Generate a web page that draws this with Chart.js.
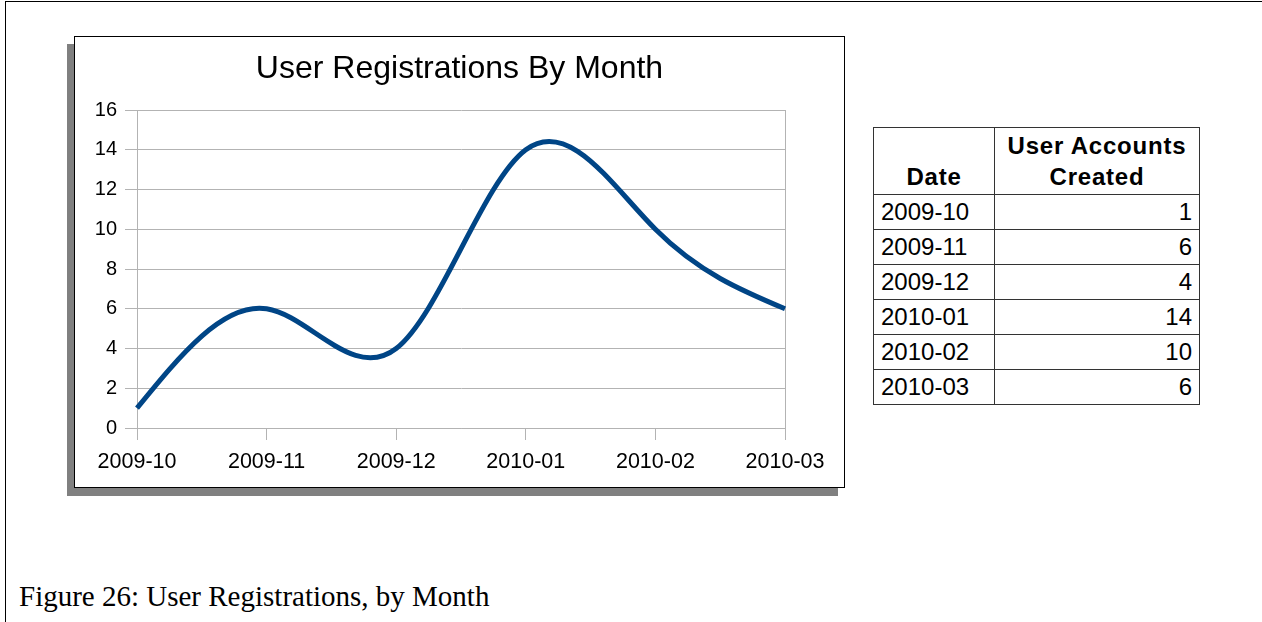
<!DOCTYPE html>
<html>
<head>
<meta charset="utf-8">
<script src="https://cdn.jsdelivr.net/npm/chart.js@4.4.0/dist/chart.umd.min.js"></script>
<style>
  body { margin: 0; background: #fff; width: 1262px; height: 622px; overflow: hidden; position: relative; }
  #page { position: absolute; left: 5px; top: 1px; width: 1300px; height: 700px; border-top: 1px solid #000; border-left: 1px solid #000; }
  #chartBox { position: absolute; left: 74px; top: 36px; width: 769px; height: 450px; border: 1px solid #000; background: #fff; box-shadow: -7px 8px 0 #808080; }
  #chartBox canvas { position: absolute; left: 0; top: 0; }
  #dataTable { position: absolute; left: 873px; top: 127px; border-collapse: collapse; font-family: "Liberation Sans", Arial, sans-serif; font-size: 24px; color: #000; }
  #dataTable th, #dataTable td { border: 1px solid #333; padding: 0 7px; line-height: 30px; }
  #dataTable th { font-weight: bold; vertical-align: bottom; text-align: center; height: 64px; padding-bottom: 2px; line-height: 31px; letter-spacing: 0.8px; }
  #dataTable td { height: 34px; vertical-align: middle; }
  #dataTable td.num { text-align: right; }
  #caption { position: absolute; left: 19px; top: 581px; font-family: "Liberation Serif", serif; font-size: 29px; line-height: 30px; color: #000; white-space: nowrap; }
</style>
</head>
<body>
<div id="page"></div>
<div id="chartBox"><canvas id="regChart" width="769" height="450"></canvas></div>
<table id="dataTable">
  <thead><tr><th style="width:106px">Date</th><th style="width:190px">User Accounts<br>Created</th></tr></thead>
  <tbody id="tableBody"></tbody>
</table>
<div id="caption">Figure 26: User Registrations, by Month</div>

<script>
// data
const months = ["2009-10", "2009-11", "2009-12", "2010-01", "2010-02", "2010-03"];
const accounts = [1, 6, 4, 14, 10, 6];
const yMin = 0;
const yMax = 16;
const yStep = 2;

const gridGray = "#b3b3b3";

// ================= TABLE =================
const body = document.getElementById("tableBody");
for (let i = 0; i < months.length; i++) {
    const tr = document.createElement("tr");
    tr.innerHTML = "<td>" + months[i] + "</td><td class='num'>" + accounts[i] + "</td>";
    body.appendChild(tr);
}

// natural cubic spline (like the office chart) -> bezier control points on the points
const naturalSpline = {
    id: "naturalSpline",
    beforeDatasetDraw(chart, args) {
        const meta = args.meta;
        meta.dataset.updateControlPoints(chart.chartArea, "x");
        const pts = meta.data;
        const v = chart.data.datasets[args.index].data;
        const n = v.length;
        if (n < 3) return;

        // second derivatives, M[0] = M[n-1] = 0
        const M = new Array(n).fill(0);
        const c = new Array(n).fill(0);
        const d = new Array(n).fill(0);
        for (let i = 1; i < n - 1; i++) {
            const rhs = 6 * (v[i - 1] - 2 * v[i] + v[i + 1]);
            const denom = 4 - (i > 1 ? c[i - 1] : 0);
            c[i] = 1 / denom;
            d[i] = (rhs - (i > 1 ? d[i - 1] : 0)) / denom;
        }
        for (let i = n - 2; i >= 1; i--) {
            M[i] = d[i] - c[i] * M[i + 1];
        }

        const unit = chart.scales.y.getPixelForValue(1) - chart.scales.y.getPixelForValue(0);
        for (let i = 0; i < n; i++) {
            let m;
            if (i < n - 1) m = (v[i + 1] - v[i]) - (2 * M[i] + M[i + 1]) / 6;
            else m = (v[i] - v[i - 1]) + (M[i - 1] + 2 * M[i]) / 6;
            const h = i < n - 1 ? pts[i + 1].x - pts[i].x : pts[i].x - pts[i - 1].x;
            const dy = m * unit / 3;
            pts[i].cp1x = pts[i].x - h / 3;
            pts[i].cp1y = pts[i].y - dy;
            pts[i].cp2x = pts[i].x + h / 3;
            pts[i].cp2y = pts[i].y + dy;
        }
    }
};

// ================= CHART =================
new Chart(document.getElementById("regChart"), {
    type: "line",
    data: {
        labels: months,
        datasets: [{
            data: accounts,
            borderColor: "#004586",
            borderWidth: 5,
            tension: 0.4,
            pointRadius: 0,
            fill: false
        }]
    },
    plugins: [naturalSpline],
    options: {
        responsive: false,
        animation: false,
        layout: { padding: 0 },
        plugins: {
            legend: { display: false },
            tooltip: { enabled: false },
            title: {
                display: true,
                text: "User Registrations By Month",
                color: "#000",
                font: { family: "Liberation Sans", size: 32, weight: "normal" },
                padding: { top: 13, bottom: 21.6 }
            }
        },
        scales: {
            x: {
                offset: false,
                afterFit: s => { s.height = 59; },
                border: { display: true, color: gridGray, width: 1 },
                grid: {
                    drawOnChartArea: true,
                    color: ctx => ctx.index === months.length - 1 ? gridGray : "rgba(0,0,0,0)",
                    tickColor: gridGray,
                    tickLength: 12
                },
                ticks: {
                    color: "#000",
                    padding: 9,
                    maxRotation: 0,
                    font: { family: "Liberation Sans", size: 21.5 }
                }
            },
            y: {
                min: yMin,
                max: yMax,
                afterFit: s => { s.width = 62; },
                border: { display: true, color: gridGray, width: 1 },
                grid: { color: gridGray, tickColor: gridGray, tickLength: 12 },
                ticks: {
                    stepSize: yStep,
                    color: "#000",
                    padding: 8,
                    font: { family: "Liberation Sans", size: 20 }
                }
            },
            // empty space at the right of the plot
            yRight: {
                type: "linear",
                position: "right",
                afterFit: s => { s.width = 59; },
                border: { display: false },
                grid: { display: false },
                ticks: { display: false }
            }
        }
    }
});
</script>
</body>
</html>
